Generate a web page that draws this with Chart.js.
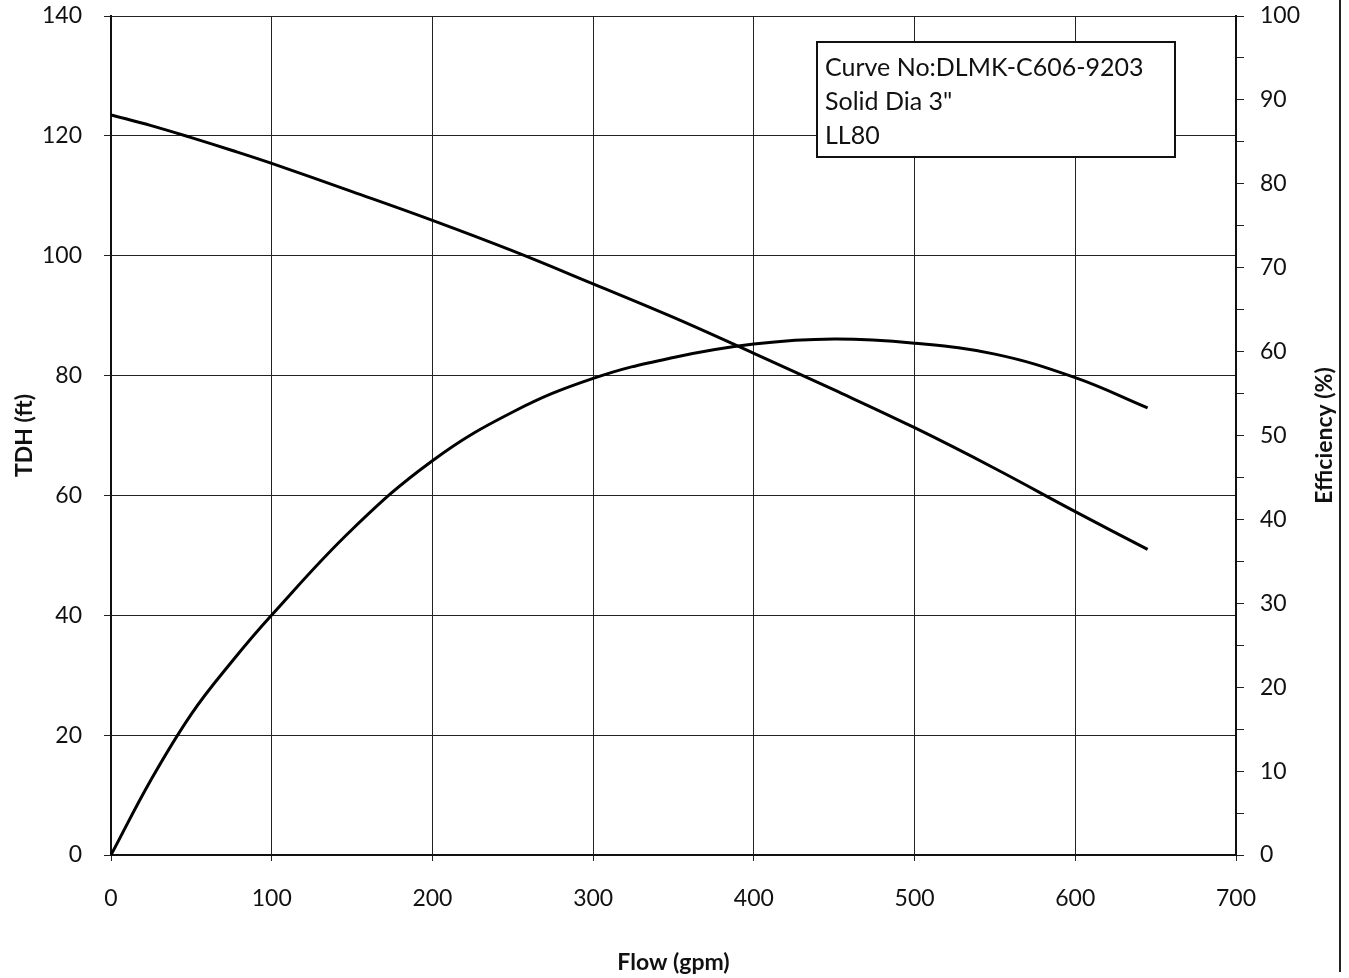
<!DOCTYPE html>
<html>
<head>
<meta charset="utf-8">
<script src="https://cdn.jsdelivr.net/npm/chart.js@4"></script>
<style>
  html, body { margin: 0; padding: 0; background: #fff; }
  #wrap { width: 1349px; height: 978px; position: relative; }
</style>
</head>
<body>
<div id="wrap"><canvas id="pumpChart"></canvas></div>
<script>
// Flow points (gpm)
const flow = [0, 25, 50, 75, 100, 150, 200, 250, 300, 350, 400, 450, 500, 550, 600, 645];
// Total dynamic head (ft), left axis
const tdh = [123.5, 121.7, 119.7, 117.6, 115.4, 110.7, 105.9, 100.8, 95.3, 89.7, 83.7, 77.6, 71.3, 64.5, 57.3, 51.0];
// Efficiency (%), right axis
const efficiency = [0, 9.0, 16.8, 23.0, 28.6, 38.8, 47.0, 52.8, 56.8, 59.3, 60.9, 61.5, 61.0, 59.7, 56.9, 53.3];

const flowTicks = [0, 100, 200, 300, 400, 500, 600, 700];
const tdhTicks = [0, 20, 40, 60, 80, 100, 120, 140];
const effTicks = [0, 10, 20, 30, 40, 50, 60, 70, 80, 90, 100];

const infoLines = ['Curve No:DLMK-C606-9203', 'Solid Dia 3"', 'LL80'];

const FONT = 'Lato, "Open Sans", sans-serif';

function toPoints(xs, ys) {
    return xs.map(function(x, i) { return { x: x, y: ys[i] }; });
}

// info box, right axis title and outer frame line
const extras = {
    id: 'extras',
    afterDatasetsDraw: function(chart) {
        const ctx = chart.ctx;
        ctx.save();
        // text box
        const bx = 817, by = 42, bw = 358, bh = 115;
        ctx.fillStyle = '#fff';
        ctx.fillRect(bx, by, bw, bh);
        ctx.strokeStyle = '#111';
        ctx.lineWidth = 2;
        ctx.strokeRect(bx, by, bw, bh);
        ctx.fillStyle = '#111';
        ctx.font = '25px ' + FONT;
        ctx.textBaseline = 'middle';
        ctx.textAlign = 'left';
        infoLines.forEach(function(line, i) {
            ctx.fillText(line, bx + 8, by + 26 + i * 34);
        });
        ctx.restore();
    },
    afterDraw: function(chart) {
        const ctx = chart.ctx;
        const area = chart.chartArea;
        ctx.save();
        // right axis title, reading bottom to top
        ctx.translate(1325, (area.top + area.bottom) / 2);
        ctx.rotate(-Math.PI / 2);
        ctx.font = 'bold 23px ' + FONT;
        ctx.fillStyle = '#111';
        ctx.textAlign = 'center';
        ctx.textBaseline = 'middle';
        ctx.fillText('Efficiency (%)', 0, 0);
        ctx.restore();
        // outer frame edge
        ctx.save();
        ctx.strokeStyle = '#222';
        ctx.lineWidth = 2;
        ctx.beginPath();
        ctx.moveTo(1340, 0);
        ctx.lineTo(1340, 972);
        ctx.stroke();
        ctx.restore();
    }
};

function fixVertical(width) {
    return function(axis) {
        axis.width = width;
        axis.paddingTop = 0;
        axis.paddingBottom = 0;
    };
}

document.addEventListener('DOMContentLoaded', function() {
    const ctx = document.getElementById('pumpChart');
    new Chart(ctx, {
        type: 'line',
        data: {
            datasets: [{
                label: 'TDH',
                data: toPoints(flow, tdh),
                yAxisID: 'y',
                borderColor: '#000',
                borderWidth: 3,
                pointRadius: 0,
                tension: 0.4,
                fill: false
            }, {
                label: 'Efficiency',
                data: toPoints(flow, efficiency),
                yAxisID: 'y2',
                borderColor: '#000',
                borderWidth: 3,
                pointRadius: 0,
                tension: 0.4,
                fill: false
            }]
        },
        options: {
            responsive: true,
            maintainAspectRatio: false,
            animation: false,
            layout: { padding: { top: 16, left: 0, right: 0, bottom: 0 } },
            plugins: {
                legend: { display: false },
                tooltip: { enabled: false }
            },
            scales: {
                x: {
                    type: 'linear',
                    min: 0,
                    max: 700,
                    afterBuildTicks: function(axis) {
                        axis.ticks = flowTicks.map(function(v) { return { value: v }; });
                    },
                    afterFit: function(axis) {
                        axis.height = 123;
                        axis.paddingLeft = 0;
                        axis.paddingRight = 0;
                    },
                    grid: { color: '#222', lineWidth: 1, tickLength: 6 },
                    border: { color: '#111', width: 2 },
                    ticks: { color: '#111', font: { family: FONT, size: 23 }, padding: 24, maxRotation: 0 },
                    title: {
                        display: true,
                        text: 'Flow (gpm)',
                        color: '#111',
                        font: { family: FONT, size: 23, weight: 'bold' },
                        padding: { top: 0, bottom: 2 }
                    }
                },
                y: {
                    position: 'left',
                    min: 0,
                    max: 140,
                    afterBuildTicks: function(axis) {
                        axis.ticks = tdhTicks.map(function(v) { return { value: v }; });
                    },
                    afterFit: fixVertical(111),
                    grid: { color: '#222', lineWidth: 1, tickLength: 7 },
                    border: { color: '#111', width: 2 },
                    ticks: { color: '#111', font: { family: FONT, size: 23 }, padding: 22 },
                    title: {
                        display: true,
                        text: 'TDH (ft)',
                        color: '#111',
                        font: { family: FONT, size: 23, weight: 'bold' },
                        padding: { top: 11, bottom: 0 }
                    }
                },
                y2: {
                    position: 'right',
                    min: 0,
                    max: 100,
                    afterBuildTicks: function(axis) {
                        // major ticks every 10, minor marks every 5
                        const all = [];
                        effTicks.forEach(function(v, i) {
                            all.push({ value: v });
                            if (i < effTicks.length - 1) all.push({ value: v + 5 });
                        });
                        axis.ticks = all;
                    },
                    afterFit: fixVertical(113),
                    grid: { drawOnChartArea: false, color: '#222', lineWidth: 1, tickLength: 8 },
                    border: { color: '#111', width: 2 },
                    ticks: {
                        color: '#111',
                        font: { family: FONT, size: 23 },
                        padding: 16,
                        callback: function(v) { return v % 10 === 0 ? v : ''; }
                    }
                }
            }
        },
        plugins: [extras]
    });
});
</script>
</body>
</html>
